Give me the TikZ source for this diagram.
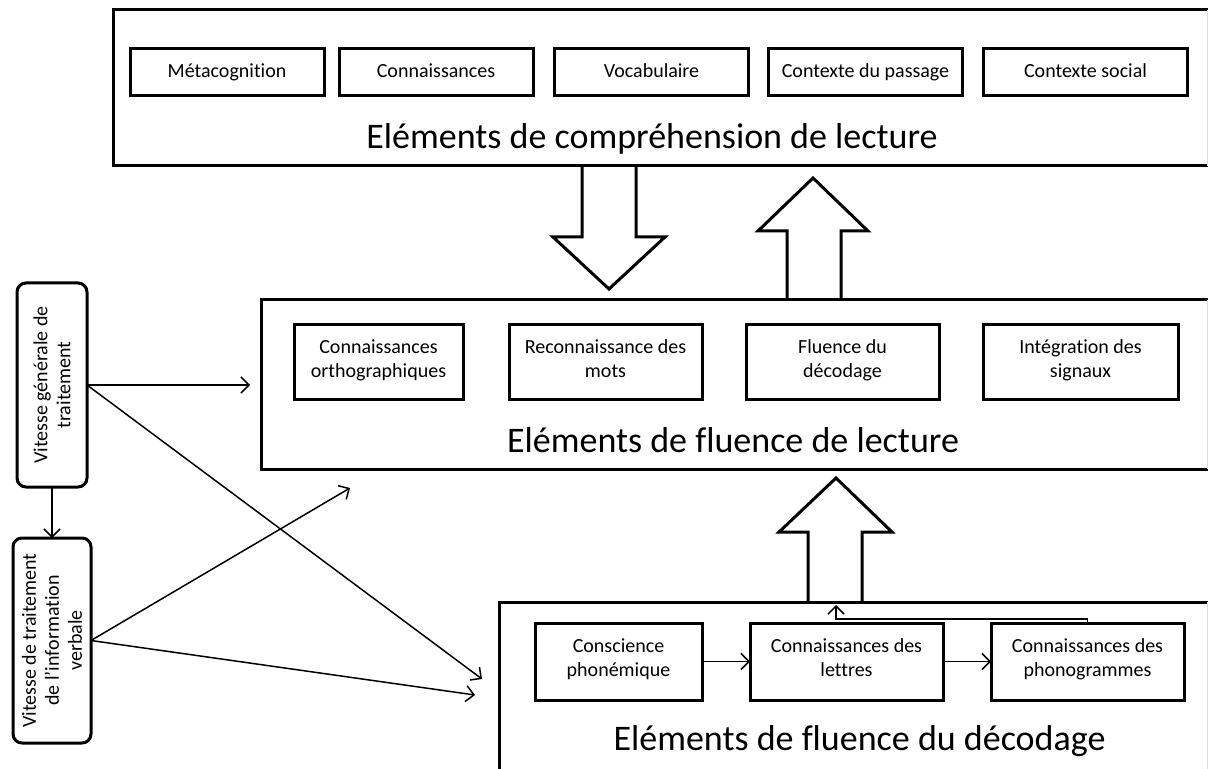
\documentclass[tikz,border=0pt]{standalone}
\usepackage{fontspec}
\setmainfont{Carlito}[Ligatures=NoCommon]
\usetikzlibrary{arrows.meta}

\begin{document}
\begin{tikzpicture}[x=0.5pt,y=-0.5pt,
    frame/.style={line width=1.5pt,line cap=rect},
    zone/.style={draw=none,outer sep=0pt,inner sep=0pt},
    item/.style={draw,line width=1.5pt,align=center,inner sep=1pt,
      outer sep=0pt,font=\fontsize{10}{12}\selectfont,
      execute at begin node=\strut,execute at end node=\strut},
    speed/.style={draw,line width=1.5pt,rounded corners=4.5pt,rotate=90,
      align=center,inner sep=1pt,outer sep=0pt,
      font=\fontsize{10}{11.5}\selectfont},
    title/.style={anchor=base,font=\fontsize{18}{21}\selectfont},
    link/.style={-{Straight Barb[length=4pt,width=8pt]},line width=0.75pt},
    fat/.style={line width=1.5pt,line join=miter}]
  \useasboundingbox (0,0) rectangle (1208,769);

  % the three zones
  \node[zone,minimum width=547.5pt,minimum height=78pt] (comp) at (660.5,88) {};
  \node[zone,minimum width=473.5pt,minimum height=84.5pt] (flu) at (734.5,384.5) {};
  \node[zone,minimum width=354.5pt,minimum height=83.5pt] (dec) at (853.5,685.5) {};
  \draw[frame] (comp.north east) -| (comp.south west) -- (comp.south east);
  \draw[frame] (flu.north east) -| (flu.south west) -- (flu.south east);
  \draw[frame] (dec.south west) |- (dec.north east);
  \draw[gray!25,line width=0.75pt] (comp.north east) -- (comp.south east)
    (flu.north east) -- (flu.south east) (dec.north east) -- (dec.south east);

  % comprehension
  \node[item,minimum width=97pt,minimum height=23.5pt] (meta) at (227,72.5) {Métacognition};
  \node[item,minimum width=97pt,minimum height=23.5pt] (conn) at (436,72.5) {Connaissances};
  \node[item,minimum width=97pt,minimum height=23.5pt] (voc) at (651.5,72.5) {Vocabulaire};
  \node[item,minimum width=97pt,minimum height=23.5pt] (cpas) at (865.5,72.5) {Contexte du passage};
  \node[item,minimum width=102pt,minimum height=23.5pt] (csoc) at (1085.5,72.5) {Contexte social};
  \node[title] (tcomp) at (652,149) {Eléments de compréhension de lecture};

  % fluence de lecture
  \node[item,minimum width=84.5pt,minimum height=37.5pt] (orth) at (378.5,362.5) {Connaissances\\orthographiques};
  \node[item,minimum width=96.5pt,minimum height=37.5pt] (reco) at (605.5,362.5) {Reconnaissance des\\mots};
  \node[item,minimum width=96.5pt,minimum height=37.5pt] (fdec) at (842.5,362.5) {Fluence du\\décodage};
  \node[item,minimum width=97.5pt,minimum height=37.5pt] (sign) at (1080.5,362.5) {Intégration des\\signaux};
  \node[title] (tflu) at (733,452) {Eléments de fluence de lecture};

  % fluence du decodage
  \node[item,minimum width=83.5pt,minimum height=38.5pt] (phon) at (618.5,661.5) {Conscience\\phonémique};
  \node[item,minimum width=96.5pt,minimum height=38.5pt] (lett) at (846.5,661.5) {Connaissances des\\lettres};
  \node[item,minimum width=96.5pt,minimum height=38.5pt] (pgr) at (1087.5,661.5) {Connaissances des\\phonogrammes};
  \node[title] (tdec) at (859.5,750) {Eléments de fluence du décodage};

  % vitesse
  \node[speed,minimum width=102pt,minimum height=35pt] (vg) at (52,385) {Vitesse générale de\\traitement};
  \node[speed,minimum width=102.5pt,minimum height=39pt] (vti) at (52,640.5) {Vitesse de traitement\\de l’information\\verbale};

  % big arrows
  \draw[fat] (582,0 |- comp.south) -- (582,237) -- (553,237) -- (609,289)
    -- (665,237) -- (636,237) -- (636,0 |- comp.south);
  \draw[fat] (787,0 |- flu.north) -- (787,231) -- (758,231) -- (813,178)
    -- (868,231) -- (841,231) -- (841,0 |- flu.north);
  \draw[fat] (808,0 |- dec.north) -- (808,532) -- (779,532) -- (836,478)
    -- (892,532) -- (862,532) -- (862,0 |- dec.north);

  % thin links
  \coordinate (e1) at (250,385);
  \coordinate (e2) at (482,679);
  \coordinate (e3) at (350,488);
  \coordinate (e4) at (475,695);
  \coordinate (dtip) at (836,605);
  \draw[link] (vg.west) -- (vti.east);
  \draw[link] (vg.south) -- (e1);
  \draw[link] (vg.south) -- (e2);
  \draw[link] (vti.south) -- (e3);
  \draw[link] (vti.south) -- (e4);
  \draw[link] (phon.east) -- (lett.west);
  \draw[link] (lett.east) -- (pgr.west);
  \draw[link] (pgr.north) -- ++(0,-4) -| (dtip);
\end{tikzpicture}
\end{document}
